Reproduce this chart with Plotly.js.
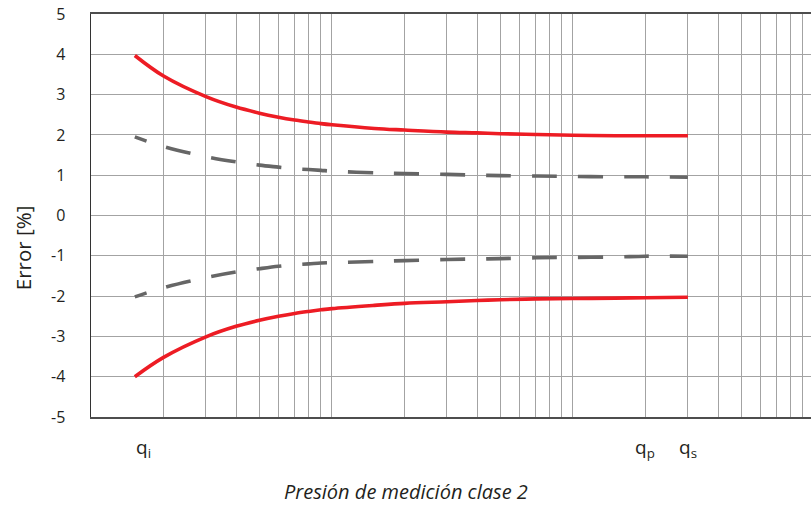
<!DOCTYPE html>
<html>
<head>
<meta charset="utf-8">
<script src="https://cdn.plot.ly/plotly-3.0.1.min.js"></script>
<style>html,body{margin:0;padding:0;background:#fff;}#chart{width:811px;height:507px;}</style>
</head>
<body>
<div id="chart"></div>
<script>
// flow values (log scale)
var flow = [1.52, 2, 3, 4, 5, 6, 7, 8, 9, 10, 15, 20, 30, 40, 50, 70, 100, 150, 200, 300];
// maximum permissible error curves [%]
var upperRed  = [3.97, 3.46, 2.95, 2.69, 2.54, 2.44, 2.37, 2.32, 2.28, 2.25, 2.16, 2.12, 2.07, 2.05, 2.03, 2.01, 1.99, 1.98, 1.98, 1.98];
var lowerRed  = [-4.00, -3.52, -3.01, -2.75, -2.60, -2.50, -2.43, -2.38, -2.34, -2.31, -2.23, -2.18, -2.14, -2.11, -2.09, -2.07, -2.06, -2.05, -2.04, -2.03];
var upperGray = [1.95, 1.71, 1.46, 1.33, 1.25, 1.20, 1.16, 1.14, 1.12, 1.10, 1.06, 1.04, 1.02, 1.00, 0.99, 0.98, 0.97, 0.96, 0.96, 0.95];
var lowerGray = [-2.02, -1.79, -1.54, -1.40, -1.32, -1.26, -1.22, -1.20, -1.18, -1.17, -1.14, -1.12, -1.09, -1.08, -1.07, -1.05, -1.04, -1.03, -1.01, -1.01];
// axis gridlines / ticks
var xGrid = [2,3,4,5,6,7,8,9,10,20,30,40,50,60,70,80,90,100,200,300,400,500,600,700,800,900];
var yTicks = [-5,-4,-3,-2,-1,0,1,2,3,4,5];
var yTickText = ['-5','-4','-3','-2','-1','0','1','2','3','4','5'];
// flow point labels
var qLabels = ['q<sub>i</sub>', 'q<sub>p</sub>', 'q<sub>s</sub>'];
var qPos = [1.65, 200, 300];

var dashParts = ['12px','21px'];
for (var i = 0; i < 20; i++) { dashParts.push('25px','21px'); }
var dashStr = dashParts.join(',');

var red = '#ed1c24';
var gray = '#666666';
var font = '"Open Sans", "DejaVu Sans", sans-serif';

var traces = [
  {x: flow, y: upperRed, mode: 'lines', line: {color: red, width: 3.6, shape: 'spline'}, hoverinfo: 'skip'},
  {x: flow, y: lowerRed, mode: 'lines', line: {color: red, width: 3.6, shape: 'spline'}, hoverinfo: 'skip'},
  {x: flow, y: upperGray, mode: 'lines', line: {color: gray, width: 3.6, shape: 'spline', dash: dashStr}, hoverinfo: 'skip'},
  {x: flow, y: lowerGray, mode: 'lines', line: {color: gray, width: 3.6, shape: 'spline', dash: dashStr}, hoverinfo: 'skip'}
];

var annotations = [];
for (var k = 0; k < qLabels.length; k++) {
  annotations.push({
    text: qLabels[k], x: Math.log10(qPos[k]), xref: 'x', y: 0, yref: 'paper',
    yanchor: 'middle', xanchor: 'center', yshift: -31, showarrow: false,
    font: {family: font, size: 19, color: '#231f20'}
  });
}
annotations.push({
  text: '<i>Presión de medición clase 2</i>', x: 0.437, xref: 'paper', y: 0, yref: 'paper',
  xanchor: 'center', yanchor: 'middle', yshift: -74, showarrow: false,
  font: {family: font, size: 20, color: '#231f20'}
});
annotations.push({
  text: 'Error [%]', x: -0.0944, xref: 'paper', y: 0.419, yref: 'paper',
  xanchor: 'center', yanchor: 'middle', textangle: -90, showarrow: false,
  font: {family: font, size: 20.5, color: '#231f20'}
});

var layout = {
  width: 811, height: 507,
  margin: {l: 91, r: 0, t: 14, b: 90, pad: 0},
  paper_bgcolor: '#ffffff', plot_bgcolor: '#ffffff',
  showlegend: false,
  font: {family: font, size: 16, color: '#231f20'},
  xaxis: {
    type: 'log', range: [0, 2.988], tickmode: 'array', tickvals: xGrid,
    showticklabels: false, ticks: '', showgrid: true, gridcolor: '#a3a3a3', gridwidth: 1,
    showline: true, linecolor: '#4d4d4d', linewidth: 2, mirror: true, zeroline: false, fixedrange: true
  },
  yaxis: {
    range: [-5, 5], tickmode: 'array', tickvals: yTicks, ticktext: yTickText,
    ticks: '', ticklabelstandoff: 21, showgrid: true, gridcolor: '#a3a3a3', gridwidth: 1,
    showline: true, linecolor: '#333333', linewidth: 1.5, zeroline: false, fixedrange: true,
    tickfont: {family: font, size: 16, color: '#231f20'}
  },
  annotations: annotations
};

Plotly.newPlot('chart', traces, layout, {displayModeBar: false, staticPlot: true});
</script>
</body>
</html>
